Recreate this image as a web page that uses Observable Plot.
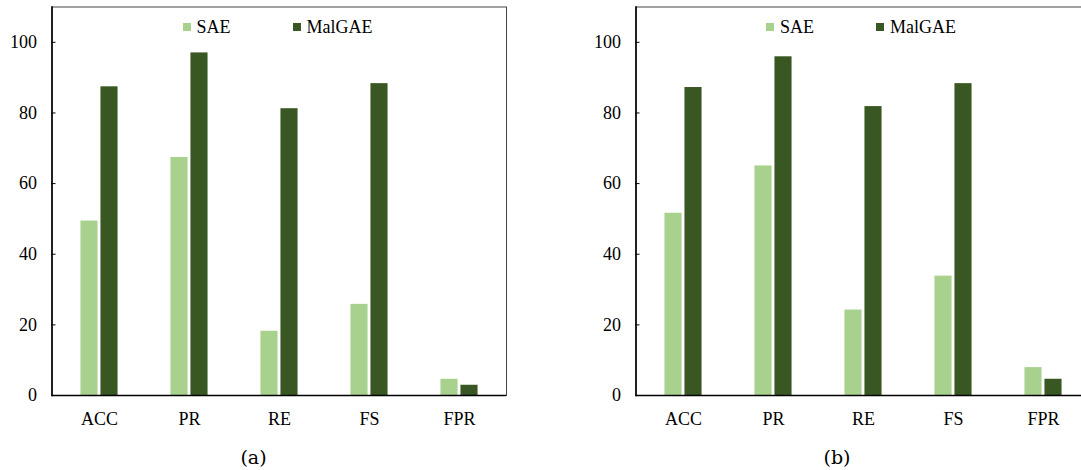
<!DOCTYPE html>
<html>
<head>
<meta charset="utf-8">
<script src="https://cdn.jsdelivr.net/npm/d3@7"></script>
<script src="https://cdn.jsdelivr.net/npm/@observablehq/plot@0.6"></script>
<style>
html, body { margin: 0; padding: 0; background: #fff; overflow: hidden; }
body { position: relative; width: 1081px; height: 470px; }
.panel { position: absolute; top: 0; width: 507px; height: 470px; }
.panel svg.chart { position: absolute; left: 0; top: 0; display: block; }
.cap { position: absolute; left: 0; width: 507px; top: 446.4px; text-align: center;
       font-family: "DejaVu Serif", serif; font-size: 19px; line-height: 22px; color: #000; }
div.leg { position: absolute; left: 182.5px; top: 17.4px; }
div.leg .lg-swatches, div.leg .lg-swatch { margin: 0 !important; min-height: 0 !important; font-family: "Liberation Serif", serif !important;
       font-size: 18px !important; line-height: 20px; color: #000; }
div.leg .lg-swatch { margin-right: 62px !important; }
div.leg .lg-swatch > svg { margin-right: 6px !important; }
</style>
</head>
<body>
<div id="pa" class="panel" style="left:0px"></div>
<div id="pb" class="panel" style="left:583.5px"></div>
<script>
// ---- data ----
const metrics = ["ACC", "PR", "RE", "FS", "FPR"];
const models = ["SAE", "MalGAE"];
const colors = ["#a9d18e", "#385723"];
const saeA = [49.4, 67.4, 18.2, 25.8, 4.6];
const malA = [87.4, 97.0, 81.2, 88.3, 2.9];
const saeB = [51.6, 65.0, 24.2, 33.8, 7.9];
const malB = [87.2, 95.9, 81.8, 88.3, 4.6];
const yTicks = [0, 20, 40, 60, 80, 100];
const captions = ["(a)", "(b)"];

function panel(el, sae, mal, cap) {
  const data = metrics.flatMap((m, i) => [
    {metric: m, model: models[0], value: sae[i]},
    {metric: m, model: models[1], value: mal[i]}
  ]);
  const W = 507, ML = 51.5, MR = 1;
  const band = (W - ML - MR) / metrics.length;
  const bw = 18, gap = 1;
  const chart = Plot.plot({
    width: W, height: 440,
    marginLeft: ML, marginRight: MR, marginTop: 6.5, marginBottom: 45,
    style: {fontFamily: "'Liberation Serif', serif", fontSize: "18px", color: "#000", background: "transparent", overflow: "visible"},
    x: {domain: metrics, padding: 0, axis: null, label: null},
    y: {domain: [0, 110], axis: null, label: null},
    color: {domain: models, range: colors},
    marks: [
      Plot.barY(data.filter(d => d.model === models[0]), {x: "metric", y: "value", fill: "model",
        insetLeft: band / 2 - gap - bw, insetRight: band / 2 + gap}),
      Plot.barY(data.filter(d => d.model === models[1]), {x: "metric", y: "value", fill: "model",
        insetLeft: band / 2 + gap, insetRight: band / 2 - gap - bw}),
      Plot.frame({stroke: "#444", strokeWidth: 1}),
      Plot.frame({anchor: "left", stroke: "#000", strokeWidth: 1.6}),
      Plot.ruleY([0], {stroke: "#000", strokeWidth: 1.6}),
      Plot.axisY(yTicks, {tickSize: -4, tickPadding: 19, label: null, fontFamily: "Liberation Serif", fontSize: 18}),
      Plot.axisX(metrics, {tickSize: 0, tickPadding: 17, label: null, fontFamily: "Liberation Serif", fontSize: 18})
    ]
  });
  chart.classList.add("chart");
  el.appendChild(chart);

  const legWrap = document.createElement("div");
  legWrap.className = "leg";
  legWrap.appendChild(Plot.legend({color: {domain: models, range: colors}, swatchSize: 8, className: "lg",
    style: {fontFamily: "'Liberation Serif', serif", fontSize: "18px", color: "#000"}}));
  el.appendChild(legWrap);

  const c = document.createElement("div");
  c.className = "cap";
  c.textContent = cap;
  el.appendChild(c);
}

panel(document.getElementById("pa"), saeA, malA, captions[0]);
panel(document.getElementById("pb"), saeB, malB, captions[1]);
</script>
</body>
</html>
